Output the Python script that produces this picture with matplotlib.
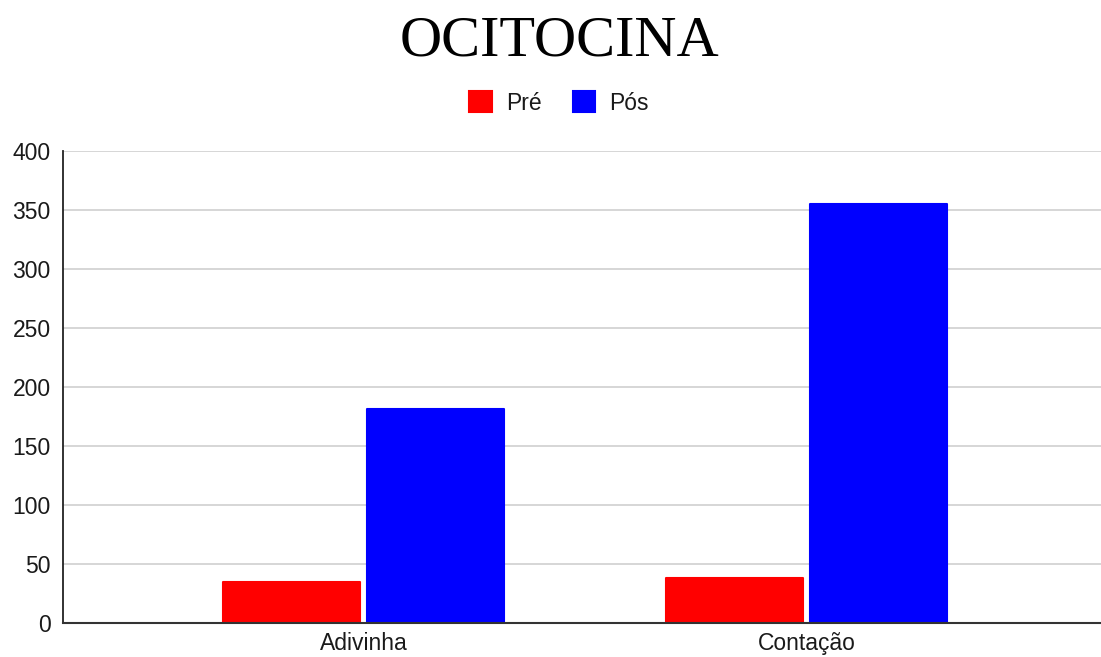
import matplotlib
matplotlib.use("Agg")
import matplotlib.pyplot as plt
import numpy as np

categories = ["Adivinha", "Contação"]
series_names = ["Pré", "Pós"]
pre_values = [34.5, 38.0]
pos_values = [181.0, 354.5]
series_colors = ["#ff0000", "#0000ff"]
y_ticks = [0, 50, 100, 150, 200, 250, 300, 350, 400]

plt.rcParams["font.family"] = ["Liberation Sans", "DejaVu Sans"]

fig = plt.figure(figsize=(11.01, 6.57), dpi=100)
ax = fig.add_axes([63 / 1101, 1 - 622.7 / 657, 1 - 63 / 1101, (622.7 - 150.7) / 657])

x = np.arange(len(categories))
bar_w = 0.31
offset = 0.1625
for vals, name, color, sign in zip([pre_values, pos_values], series_names,
                                   series_colors, [-1, 1]):
    # a thin same-coloured round-joined edge gives the bars softened corners
    ax.bar(x + sign * offset, vals, width=bar_w, color=color, edgecolor=color,
           linewidth=1.5, joinstyle="round", label=name, zorder=3)

ax.set_ylim(0, 400)
ax.set_xlim(-0.6777, 1.664)
ax.set_yticks(y_ticks)
ax.set_xticks(x)
ax.set_xticklabels(categories)
ax.tick_params(axis="both", length=0, labelsize=16.5, labelcolor="#1a1a1a")
ax.tick_params(axis="y", pad=9)
ax.tick_params(axis="x", pad=7)

ax.grid(axis="y", color="#cccccc", linewidth=1.1, zorder=0)
ax.set_axisbelow(True)
for side in ["top", "right"]:
    ax.spines[side].set_visible(False)
ax.spines["left"].set_color("#222222")
ax.spines["left"].set_linewidth(1.3)
ax.spines["bottom"].set_color("#333333")
ax.spines["bottom"].set_linewidth(1.5)
ax.spines["bottom"].set_zorder(4)

fig.text(559 / 1101, 1 - 55 / 657, "OCITOCINA", family="Liberation Serif",
         fontsize=42, ha="center", va="baseline", color="black")

leg = fig.legend(loc="center", bbox_to_anchor=(559 / 1101, 1 - 103 / 657),
                 ncol=2, frameon=False, fontsize=16.5, handlelength=1.0,
                 handleheight=1.0, handletextpad=0.6, columnspacing=1.35,
                 borderpad=0, borderaxespad=0)
for t in leg.get_texts():
    t.set_color("#1a1a1a")

fig.savefig("out.png", dpi=100)
